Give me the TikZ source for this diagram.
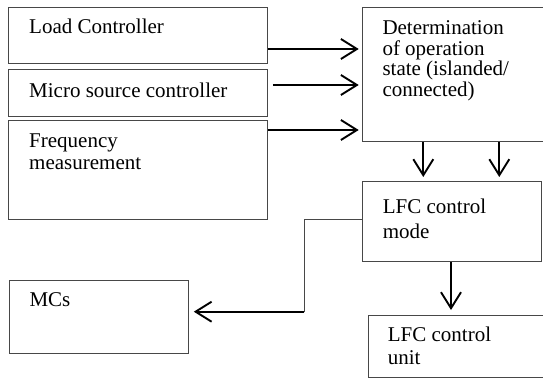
\documentclass[tikz,border=0pt]{standalone}
\usepackage{fontspec}
\setmainfont{Liberation Serif}
\usetikzlibrary{arrows.meta}
\begin{document}
\begin{tikzpicture}[x=1pt,y=-1pt,
  boxc/.style={draw=black!72,line width=1.1pt,rectangle,inner sep=0pt,anchor=north west},
  txt/.style={anchor=base west,inner sep=0pt,align=left},
  arr/.style={line width=1.9pt,-{Straight Barb[length=16pt,width=20pt,line width=1.9pt]}},
  thinln/.style={draw=black!72,line width=1.1pt}]
\useasboundingbox (0,0) rectangle (543,379);
\clip (0,0) rectangle (543,379);
% boxes
\node[boxc,minimum width=258.4pt,minimum height=56pt] (load) at (8.3,6.7) {};
\node[boxc,minimum width=258.4pt,minimum height=47pt] (micro) at (8.3,69) {};
\node[boxc,minimum width=258.4pt,minimum height=99pt] (freq) at (8.3,120) {};
\node[boxc,minimum width=200pt,minimum height=134pt] (det) at (361.7,6.7) {};
\node[boxc,minimum width=178.4pt,minimum height=80pt] (mode) at (362.3,181) {};
\node[boxc,minimum width=200pt,minimum height=62.3pt] (unit) at (367.7,315) {};
\node[boxc,minimum width=178.4pt,minimum height=72.7pt] (mcs) at (9.3,280) {};
% texts (base anchor = baseline of the last line)
\node[txt,font=\fontsize{21}{21}\selectfont] (tload) at (29,34) {Load Controller};
\node[txt,font=\fontsize{21}{21}\selectfont] (tmicro) at (29,97.7) {Micro source controller};
\node[txt,font=\fontsize{21}{22.7}\selectfont] (tfreq) at (29,170) {Frequency\\measurement};
\node[txt,font=\fontsize{21}{20.8}\selectfont] (tdet) at (382.3,96.7) {Determination\\of operation\\state (islanded/\\connected)};
\node[txt,font=\fontsize{21}{25}\selectfont] (tmode) at (382.7,238.3) {LFC control\\mode};
\node[txt,font=\fontsize{21}{22.7}\selectfont] (tunit) at (387.7,364.4) {LFC control\\unit};
\node[txt,font=\fontsize{21}{21}\selectfont] (tmcs) at (29.3,306) {MCs};
% connectors
\draw[arr,shorten >=3pt] (load.east |- 0,49) -- (det.west |- 0,49);
\draw[arr,shorten <=5pt,shorten >=3pt] (micro.east |- 0,85) -- (det.west |- 0,85);
\draw[arr,shorten >=3pt] (freq.east |- 0,130) -- (det.west |- 0,130);
\draw[arr,shorten >=4pt] (det.south -| 423.3,0) -- (mode.north -| 423.3,0);
\draw[arr,shorten >=4pt] (det.south -| 499.3,0) -- (mode.north -| 499.3,0);
\draw[arr,shorten >=5pt] (mode.south -| 451,0) -- (unit.north -| 451,0);
\coordinate (bend) at (304.3,311.7);
\draw[thinln] (mode.west |- 0,219.3) -| (bend);
\draw[arr,shorten >=5pt] (bend) -- (mcs.east |- bend);
\end{tikzpicture}
\end{document}
